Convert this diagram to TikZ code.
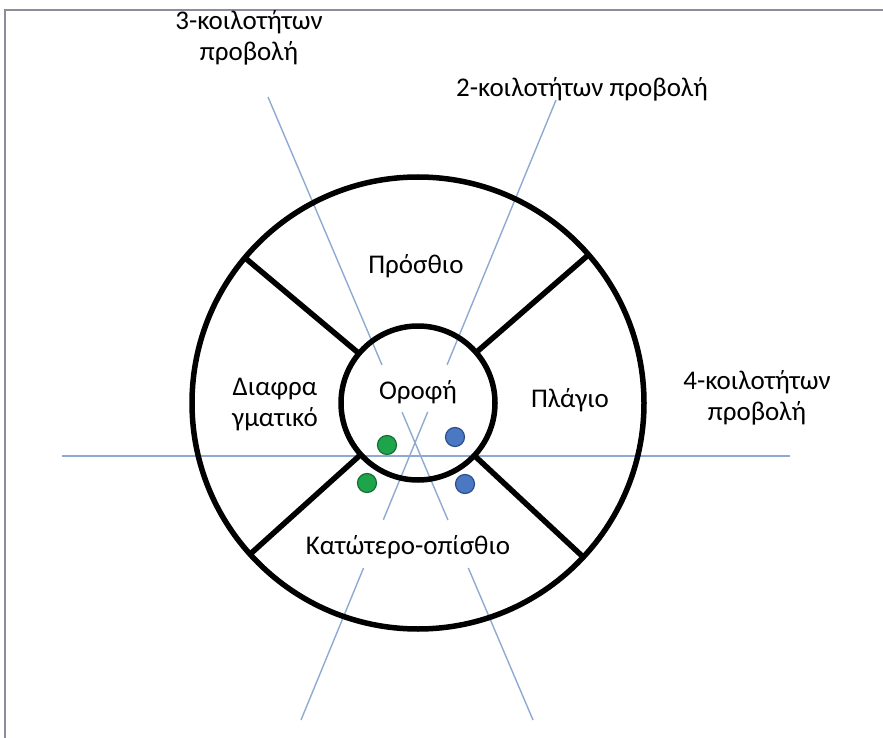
\documentclass[tikz,border=0pt]{standalone}
\usepackage{fontspec}
\setmainfont{Carlito}
\usepackage{tikz}
\usetikzlibrary{calc}

\definecolor{projblue}{RGB}{143,170,210}
\definecolor{framegray}{RGB}{140,140,155}
\definecolor{dotgreen}{RGB}{30,165,75}
\definecolor{dotgreenedge}{RGB}{25,110,55}
\definecolor{dotblue}{RGB}{75,120,195}
\definecolor{dotblueedge}{RGB}{45,80,140}

\tikzset{
  wall/.style={line width=5.5pt},
  proj/.style={projblue,line width=1.4pt},
  greendot/.style={fill=dotgreen,draw=dotgreenedge,line width=1.2pt},
  bluedot/.style={fill=dotblue,draw=dotblueedge,line width=1.2pt},
  lbl/.style={align=center,inner sep=0pt}
}

\begin{document}
\begin{tikzpicture}[x=1pt,y=-1pt,font=\fontsize{27}{31}\selectfont]
    \useasboundingbox (0,0) rectangle (883,738);
    \draw[framegray,line width=2pt] (5,738) -- (5,10) -- (883,10);

    \coordinate (C) at (418,403);
    \coordinate (T3) at (268,97);  \coordinate (B3) at (533,720);
    \coordinate (T2) at (556,100); \coordinate (B2) at (301,720);
    \coordinate (HL) at (62,456);  \coordinate (HR) at (790,456);

    \draw[proj] (HL) -- (HR);
    \draw[proj] (T3) -- ($(T3)!0.430!(B3)$); \draw[proj] ($(T3)!0.506!(B3)$) -- ($(T3)!0.679!(B3)$); \draw[proj] ($(T3)!0.756!(B3)$) -- (B3);
    \draw[proj] (T2) -- ($(T2)!0.427!(B2)$); \draw[proj] ($(T2)!0.503!(B2)$) -- ($(T2)!0.677!(B2)$); \draw[proj] ($(T2)!0.755!(B2)$) -- (B2);

    \draw[wall] (C) circle[radius=226];
    \draw[wall] (C) circle[radius=77];
    \draw[wall] ($(C)+(220:77)$) -- ($(C)+(220:226)$);
    \draw[wall] ($(C)+(319:77)$) -- ($(C)+(319:226)$);
    \draw[wall] ($(C)+(138:77)$) -- ($(C)+(138:226)$);
    \draw[wall] ($(C)+(43:77)$) -- ($(C)+(43:226)$);

    \node[circle,greendot,minimum size=19pt,inner sep=0pt] (g1) at (387,445) {};
    \node[circle,greendot,minimum size=19pt,inner sep=0pt] (g2) at (367,483) {};
    \node[circle,bluedot,minimum size=19pt,inner sep=0pt] (b1) at (455,437) {};
    \node[circle,bluedot,minimum size=19pt,inner sep=0pt] (b2) at (465,484) {};

    \node[lbl] (three) at (249,38) {3-κοιλοτήτων\\προβολή};
    \node[lbl] (two) at (582,89) {2-κοιλοτήτων προβολή};
    \node[lbl] (four) at (757,398) {4-κοιλοτήτων\\προβολή};
    \node[lbl] (ant) at (416,266) {Πρόσθιο};
    \node[lbl] (roof) at (418,392) {Οροφή};
    \node[lbl] (diaph) at (275,405) {Διαφρα\\γματικό};
    \node[lbl] (lat) at (570,400) {Πλάγιο};
    \node[lbl] (inf) at (408,547) {Κατώτερο-οπίσθιο};
  \end{tikzpicture}
\end{document}
